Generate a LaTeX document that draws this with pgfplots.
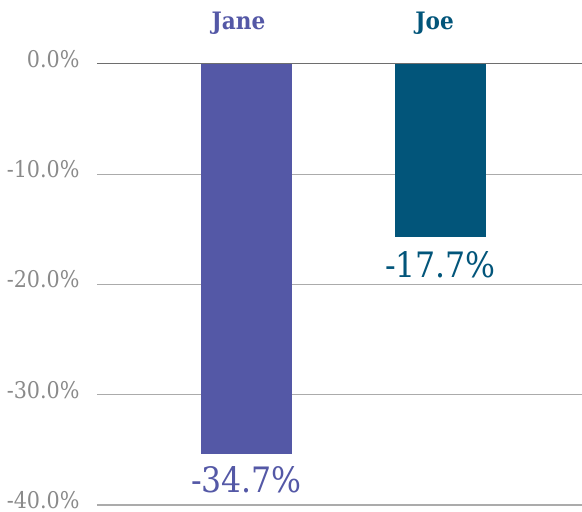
\documentclass[border=0pt]{standalone}
\usepackage{pgfplots}
\pgfplotsset{compat=1.18}
\usepackage{fontspec}
\setmainfont{DejaVu Serif Condensed}
\definecolor{janec}{HTML}{5458A6}
\definecolor{joec}{HTML}{02557A}
\definecolor{ticktext}{HTML}{8A8A8A}
\definecolor{gridc}{HTML}{ABABAB}
\definecolor{zeroc}{HTML}{6E6E6E}

\begin{document}
\begin{tikzpicture}
% fixed page: 582 x 512
\useasboundingbox (-97pt,-7pt) rectangle (485pt,505pt);
\begin{axis}[
    at={(0,0)}, anchor=south west,
    scale only axis,
    width=485pt, height=441pt,
    xmin=0.229, xmax=2.729,
    ymin=-40, ymax=0,
    clip=false,
    axis line style={draw=none},
    major tick length=0pt,
    xtick=\empty,
    ytick={-40,-30,-20,-10},
    yticklabels={-40.0\%,-30.0\%,-20.0\%,-10.0\%},
    extra y ticks={0},
    extra y tick labels={0.0\%},
    extra y tick style={grid style={zeroc, line width=1pt}},
    ymajorgrids,
    grid style={gridc, line width=1.2pt},
    yticklabel style={text=ticktext, font=\fontsize{23}{23}\selectfont,
        anchor=base east, xshift=-14pt, yshift=-3.5pt},
    ybar, bar width=0.469,
]
\addplot[fill=janec, draw=none, bar shift=0pt,
    nodes near coords, point meta=explicit symbolic,
    every node near coord/.append style={text=janec, inner sep=0pt,
        font=\fontsize{35}{35}\selectfont, anchor=north, yshift=-12pt}]
    coordinates {(1,-35.4) [-34.7\%]};
\addplot[fill=joec, draw=none, bar shift=0pt,
    nodes near coords, point meta=explicit symbolic,
    every node near coord/.append style={text=joec, inner sep=0pt,
        font=\fontsize{35}{35}\selectfont, anchor=north, yshift=-14pt}]
    coordinates {(2,-15.7) [-17.7\%]};
% category names above the plot
\node[anchor=base, text=janec, font=\bfseries\fontsize{24}{24}\selectfont,
    xshift=-8pt, yshift=34pt] at (axis cs:1,0) {Jane};
\node[anchor=base, text=joec, font=\bfseries\fontsize{24}{24}\selectfont,
    xshift=-6pt, yshift=34pt] at (axis cs:2,0) {Joe};
\end{axis}
\end{tikzpicture}
\end{document}
